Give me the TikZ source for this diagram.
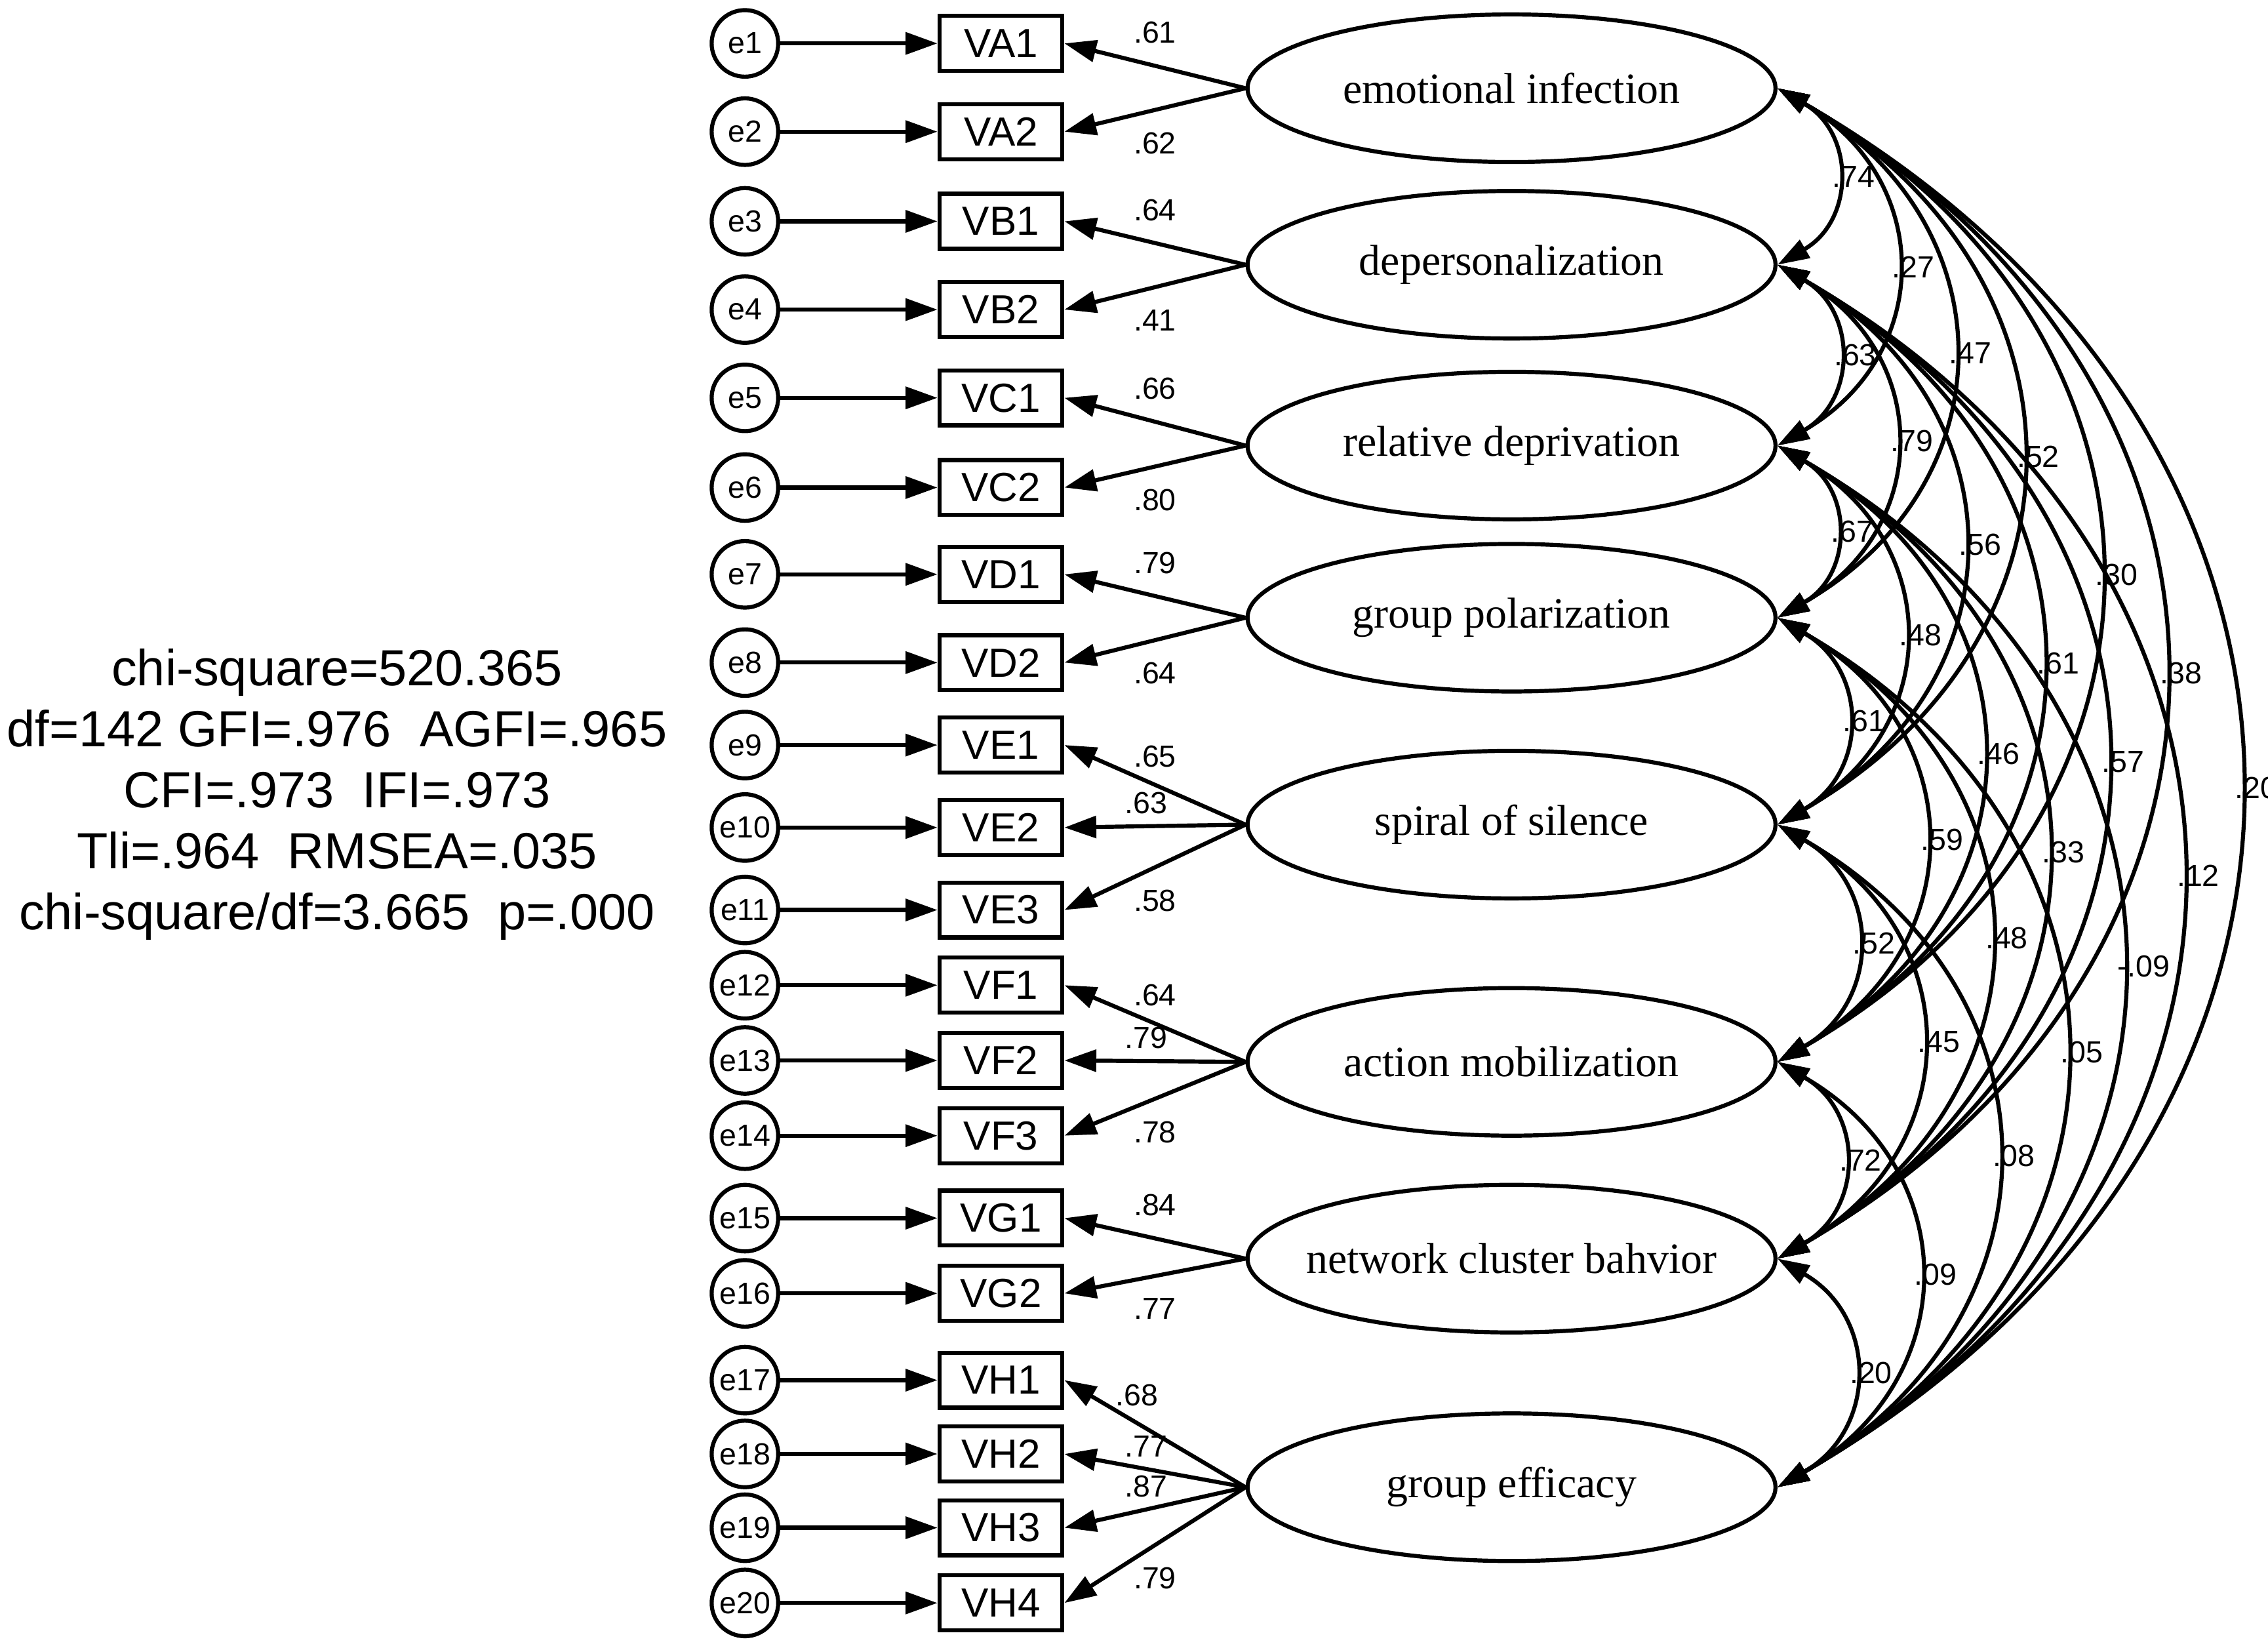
\documentclass[tikz,border=0pt]{standalone}
\usepackage{fontspec}
\setmainfont{Liberation Serif}
\setsansfont{Liberation Sans}
\usepackage{tikz}
\usetikzlibrary{arrows.meta}
\usetikzlibrary{positioning,shapes.geometric}

\tikzset{
  obs/.style={draw, thick, rectangle, minimum width=0.85cm, minimum height=0.38cm, inner sep=0pt, font=\sffamily\fontsize{8}{9}\selectfont},
  err/.style={draw, thick, circle, minimum size=0.46cm, inner sep=0pt, font=\sffamily\fontsize{6}{7}\selectfont},
  lat/.style={draw, thick, ellipse, minimum width=3.65cm, minimum height=1.02cm, inner sep=0pt, font=\fontsize{8.5}{10}\selectfont},
  load/.style={thick, -{Triangle[length=2.2mm,width=1.5mm]}},
  cov/.style={thick, {Triangle[length=2.2mm,width=1.4mm]}-{Triangle[length=2.2mm,width=1.4mm]}},
  num/.style={font=\sffamily\fontsize{6}{7}\selectfont, inner sep=1pt}
}
\newcommand{\lname}[1]{\makebox[0pt]{#1}}

\begin{document}
\begin{tikzpicture}
\useasboundingbox (0,0) rectangle (15.68,-11.405);

% latent factors
\draw (10.45,-0.61) node[lat] (A) {\lname{emotional infection}};
\draw (10.45,-1.83) node[lat] (B) {\lname{depersonalization}};
\draw (10.45,-3.08) node[lat] (C) {\lname{relative deprivation}};
\draw (10.45,-4.27) node[lat] (D) {\lname{group polarization}};
\draw (10.45,-5.70) node[lat] (E) {\lname{spiral of silence}};
\draw (10.45,-7.34) node[lat] (F) {\lname{action mobilization}};
\draw (10.45,-8.70) node[lat] (G) {\lname{network cluster bahvior}};
\draw (10.45,-10.28) node[lat] (H) {\lname{group efficacy}};

% observed items with their errors
\draw (6.92,-0.30) node[obs] (va1) {VA1};   \draw (5.15,-0.30) node[err] (e1) {e1};
\draw (6.92,-0.91) node[obs] (va2) {VA2};   \draw (5.15,-0.91) node[err] (e2) {e2};
\draw (6.92,-1.53) node[obs] (vb1) {VB1};   \draw (5.15,-1.53) node[err] (e3) {e3};
\draw (6.92,-2.14) node[obs] (vb2) {VB2};   \draw (5.15,-2.14) node[err] (e4) {e4};
\draw (6.92,-2.75) node[obs] (vc1) {VC1};   \draw (5.15,-2.75) node[err] (e5) {e5};
\draw (6.92,-3.37) node[obs] (vc2) {VC2};   \draw (5.15,-3.37) node[err] (e6) {e6};
\draw (6.92,-3.97) node[obs] (vd1) {VD1};   \draw (5.15,-3.97) node[err] (e7) {e7};
\draw (6.92,-4.58) node[obs] (vd2) {VD2};   \draw (5.15,-4.58) node[err] (e8) {e8};
\draw (6.92,-5.15) node[obs] (ve1) {VE1};   \draw (5.15,-5.15) node[err] (e9) {e9};
\draw (6.92,-5.72) node[obs] (ve2) {VE2};   \draw (5.15,-5.72) node[err] (e10) {e10};
\draw (6.92,-6.29) node[obs] (ve3) {VE3};   \draw (5.15,-6.29) node[err] (e11) {e11};
\draw (6.92,-6.81) node[obs] (vf1) {VF1};   \draw (5.15,-6.81) node[err] (e12) {e12};
\draw (6.92,-7.33) node[obs] (vf2) {VF2};   \draw (5.15,-7.33) node[err] (e13) {e13};
\draw (6.92,-7.85) node[obs] (vf3) {VF3};   \draw (5.15,-7.85) node[err] (e14) {e14};
\draw (6.92,-8.42) node[obs] (vg1) {VG1};   \draw (5.15,-8.42) node[err] (e15) {e15};
\draw (6.92,-8.94) node[obs] (vg2) {VG2};   \draw (5.15,-8.94) node[err] (e16) {e16};
\draw (6.92,-9.54) node[obs] (vh1) {VH1};   \draw (5.15,-9.54) node[err] (e17) {e17};
\draw (6.92,-10.05) node[obs] (vh2) {VH2};  \draw (5.15,-10.05) node[err] (e18) {e18};
\draw (6.92,-10.56) node[obs] (vh3) {VH3};  \draw (5.15,-10.56) node[err] (e19) {e19};
\draw (6.92,-11.08) node[obs] (vh4) {VH4};  \draw (5.15,-11.08) node[err] (e20) {e20};

% error paths
\foreach \e/\v in {e1/va1,e2/va2,e3/vb1,e4/vb2,e5/vc1,e6/vc2,e7/vd1,e8/vd2,e9/ve1,e10/ve2,
                   e11/ve3,e12/vf1,e13/vf2,e14/vf3,e15/vg1,e16/vg2,e17/vh1,e18/vh2,e19/vh3,e20/vh4}
  \draw[load] (\e) -- (\v);

% loadings
\draw[load] (A.west) -- node[num, pos=.5, above=3pt] {.61} (va1.east);
\draw[load] (A.west) -- node[num, pos=.5, below=3pt] {.62} (va2.east);
\draw[load] (B.west) -- node[num, pos=.5, above=3pt] {.64} (vb1.east);
\draw[load] (B.west) -- node[num, pos=.5, below=3pt] {.41} (vb2.east);
\draw[load] (C.west) -- node[num, pos=.5, above=3pt] {.66} (vc1.east);
\draw[load] (C.west) -- node[num, pos=.5, below=3pt] {.80} (vc2.east);
\draw[load] (D.west) -- node[num, pos=.5, above=3pt] {.79} (vd1.east);
\draw[load] (D.west) -- node[num, pos=.5, below=3pt] {.64} (vd2.east);
\draw[load] (E.west) -- node[num, pos=.5, above=2pt] {.65} (ve1.east);
\draw[load] (E.west) -- node[num, pos=.55, above=1pt] {.63} (ve2.east);
\draw[load] (E.west) -- node[num, pos=.5, below=3pt] {.58} (ve3.east);
\draw[load] (F.west) -- node[num, pos=.5, above=2pt] {.64} (vf1.east);
\draw[load] (F.west) -- node[num, pos=.55, above=1pt] {.79} (vf2.east);
\draw[load] (F.west) -- node[num, pos=.5, below=3pt] {.78} (vf3.east);
\draw[load] (G.west) -- node[num, pos=.5, above=3pt] {.84} (vg1.east);
\draw[load] (G.west) -- node[num, pos=.5, below=3pt] {.77} (vg2.east);
\draw[load] (H.west) -- node[num, pos=.6, above=2pt] {.68} (vh1.east);
\draw[load] (H.west) -- node[num, pos=.55, above=1pt] {.77} (vh2.east);
\draw[load] (H.west) -- node[num, pos=.55, above=1pt] {.87} (vh3.east);
\draw[load] (H.west) -- node[num, pos=.5, below=3pt] {.79} (vh4.east);

% correlations between factors
\foreach \a/\b/\r in {A/B/.74,A/C/.27,A/D/.47,A/E/.52,A/F/.30,A/G/.38,A/H/.20,
                      B/C/.63,B/D/.79,B/E/.56,B/F/.61,B/G/.57,B/H/.12,
                      C/D/.67,C/E/.48,C/F/.46,C/G/.33,C/H/-.09,
                      D/E/.61,D/F/.59,D/G/.48,D/H/.05,
                      E/F/.52,E/G/.45,E/H/.08,
                      F/G/.72,F/H/.09,G/H/.20}
  \draw[cov] (\a.east) to[out=-30, in=30, looseness=1.3] node[num, pos=.5, anchor=west, xshift=-2pt] {\r} (\b.east);

% fit indices
\draw (2.33,-5.49) node[align=center, font=\sffamily\fontsize{10}{12}\selectfont] (fit)
  {chi-square=520.365\\ df=142 GFI=.976\ \ AGFI=.965\\ CFI=.973\ \ IFI=.973\\
   Tli=.964\ \ RMSEA=.035\\ chi-square/df=3.665\ \ p=.000};

\end{tikzpicture}
\end{document}
